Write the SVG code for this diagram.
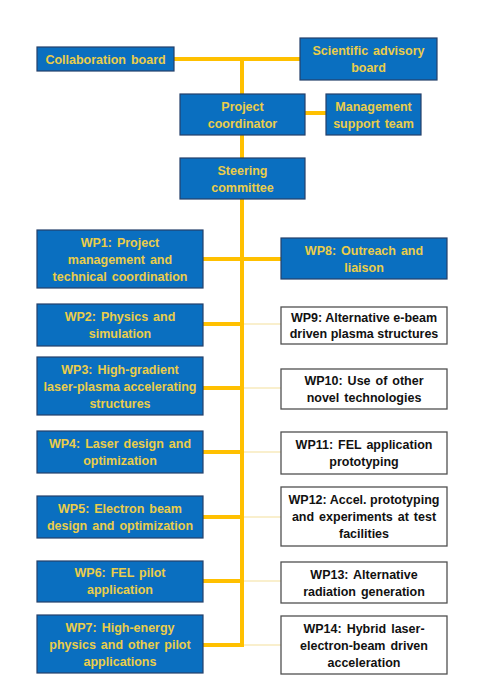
<svg xmlns="http://www.w3.org/2000/svg" width="484" height="699" viewBox="0 0 484 699">
<style>
.b{fill:#0A6FC0;stroke:#24406A;stroke-width:1.2}
.w{fill:#FFFFFF;stroke:#505050;stroke-width:1.3}
.t{font-family:"Liberation Sans",Arial,sans-serif;font-weight:bold;font-size:12.5px;text-anchor:middle;word-spacing:1.5px}
.bt{fill:#EACD4A}
.wt{fill:#111111}
.k{stroke:#FFC000;stroke-width:4;fill:none}
.th{stroke:#F3DF9C;stroke-width:1.2;fill:none}
</style>
<rect width="484" height="699" fill="#FFFFFF"/>
<g id="connectors">
<line class="k" x1="174" y1="59" x2="300" y2="59"/>
<line class="k" x1="242" y1="59" x2="242" y2="647"/>
<line class="k" x1="305" y1="113" x2="326" y2="113"/>
<line class="k" x1="203" y1="259" x2="281" y2="259"/>
<line class="k" x1="203" y1="324" x2="242" y2="324"/>
<line class="k" x1="203" y1="388" x2="242" y2="388"/>
<line class="k" x1="203" y1="452" x2="242" y2="452"/>
<line class="k" x1="203" y1="517" x2="242" y2="517"/>
<line class="k" x1="203" y1="581" x2="242" y2="581"/>
<line class="k" x1="203" y1="645" x2="244" y2="645"/>
<line class="th" x1="244" y1="324" x2="281" y2="324"/>
<line class="th" x1="244" y1="388" x2="281" y2="388"/>
<line class="th" x1="244" y1="452" x2="281" y2="452"/>
<line class="th" x1="244" y1="517" x2="281" y2="517"/>
<line class="th" x1="244" y1="581" x2="281" y2="581"/>
<line class="th" x1="244" y1="645" x2="281" y2="645"/>
</g>
<g id="collab"><rect class="b" x="37" y="47" width="137" height="24"/><text class="t bt" x="105.5" y="63.5">Collaboration board</text></g>
<g id="sab"><rect class="b" x="300" y="38" width="137" height="42"/><text class="t bt" x="368.5" y="55">Scientific advisory</text><text class="t bt" x="368.5" y="72">board</text></g>
<g id="pc"><rect class="b" x="180" y="94" width="125" height="41"/><text class="t bt" x="242.5" y="110.5">Project</text><text class="t bt" x="242.5" y="127.5">coordinator</text></g>
<g id="mst"><rect class="b" x="326" y="94" width="95" height="41"/><text class="t bt" x="373.5" y="110.5">Management</text><text class="t bt" x="373.5" y="127.5">support team</text></g>
<g id="sc"><rect class="b" x="180" y="158" width="125" height="41"/><text class="t bt" x="242.5" y="174.5">Steering</text><text class="t bt" x="242.5" y="191.5">committee</text></g>
<g id="wp1"><rect class="b" x="37" y="230" width="166" height="58"/><text class="t bt" x="120" y="246.5">WP1: Project</text><text class="t bt" x="120" y="263.5">management and</text><text class="t bt" x="120" y="280.5">technical coordination</text></g>
<g id="wp2"><rect class="b" x="37" y="304" width="166" height="42"/><text class="t bt" x="120" y="320.5">WP2: Physics and</text><text class="t bt" x="120" y="337.5">simulation</text></g>
<g id="wp3"><rect class="b" x="37" y="357" width="166" height="58"/><text class="t bt" x="120" y="373.5">WP3: High-gradient</text><text class="t bt" x="120" y="390.5" style="word-spacing:0">laser-plasma accelerating</text><text class="t bt" x="120" y="407.5">structures</text></g>
<g id="wp4"><rect class="b" x="37" y="431" width="166" height="42"/><text class="t bt" x="120" y="447.5">WP4: Laser design and</text><text class="t bt" x="120" y="464.5">optimization</text></g>
<g id="wp5"><rect class="b" x="37" y="496" width="166" height="42"/><text class="t bt" x="120" y="512.5">WP5: Electron beam</text><text class="t bt" x="120" y="529.5">design and optimization</text></g>
<g id="wp6"><rect class="b" x="37" y="561" width="166" height="41"/><text class="t bt" x="120" y="577">WP6: FEL pilot</text><text class="t bt" x="120" y="594">application</text></g>
<g id="wp7"><rect class="b" x="37" y="615" width="166" height="58"/><text class="t bt" x="120" y="631.5">WP7: High-energy</text><text class="t bt" x="120" y="648.5">physics and other pilot</text><text class="t bt" x="120" y="665.5">applications</text></g>
<g id="wp8"><rect class="b" x="281" y="238" width="166" height="41"/><text class="t bt" x="364" y="254.5">WP8: Outreach and</text><text class="t bt" x="364" y="271.5">liaison</text></g>
<g id="wp9"><rect class="w" x="281" y="307" width="166" height="37"/><text class="t wt" x="364" y="321.5" style="word-spacing:0">WP9: Alternative e-beam</text><text class="t wt" x="364" y="338" style="word-spacing:0">driven plasma structures</text></g>
<g id="wp10"><rect class="w" x="281" y="369" width="166" height="40"/><text class="t wt" x="364" y="385">WP10: Use of other</text><text class="t wt" x="364" y="402">novel technologies</text></g>
<g id="wp11"><rect class="w" x="281" y="432" width="166" height="42"/><text class="t wt" x="364" y="449">WP11: FEL application</text><text class="t wt" x="364" y="466">prototyping</text></g>
<g id="wp12"><rect class="w" x="281" y="487" width="166" height="59"/><text class="t wt" x="364" y="504" style="word-spacing:0">WP12: Accel. prototyping</text><text class="t wt" x="364" y="521">and experiments at test</text><text class="t wt" x="364" y="538">facilities</text></g>
<g id="wp13"><rect class="w" x="281" y="562" width="166" height="41"/><text class="t wt" x="364" y="578.5">WP13: Alternative</text><text class="t wt" x="364" y="595.5">radiation generation</text></g>
<g id="wp14"><rect class="w" x="281" y="616" width="166" height="58"/><text class="t wt" x="364" y="632.5">WP14: Hybrid laser-</text><text class="t wt" x="364" y="649.5">electron-beam driven</text><text class="t wt" x="364" y="666.5">acceleration</text></g>
</svg>
